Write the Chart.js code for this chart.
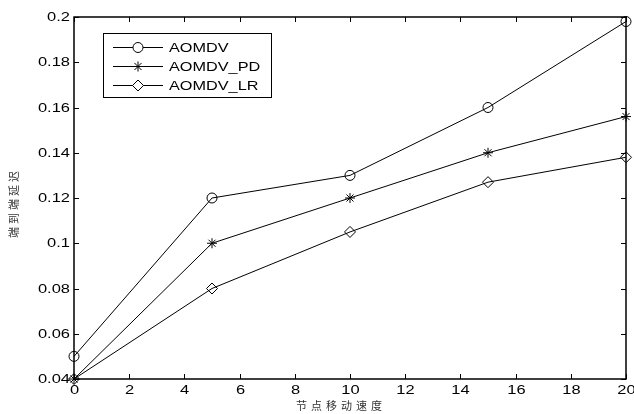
<!DOCTYPE html>
<html>
<head>
<meta charset="utf-8">
<script src="https://cdn.jsdelivr.net/npm/chart.js@4/dist/chart.umd.min.js"></script>
<style>
  html, body { margin: 0; padding: 0; background: #fff; }
  #wrap { width: 634px; height: 414px; position: relative; }
</style>
</head>
<body>
<div id="wrap"><canvas id="chart"></canvas></div>
<script>
// --- dados ---
const speeds = [0, 5, 10, 15, 20];
const aomdv = [0.05, 0.12, 0.13, 0.16, 0.198];
const aomdvPD = [0.04, 0.10, 0.12, 0.14, 0.156];
const aomdvLR = [0.04, 0.08, 0.105, 0.127, 0.138];
const seriesNames = ['AOMDV', 'AOMDV_PD', 'AOMDV_LR'];
const xTitle = '节点移动速度';
const yTitle = '端到端延迟';

function toPoints(vals) {
    return vals.map((v, i) => ({ x: speeds[i], y: v }));
}

// texto "esticado" na horizontal, como no original
function wideText(ctx, txt, x, y, align, sx) {
    const w = ctx.measureText(txt).width * sx;
    let x0 = x;
    if (align === 'right') x0 = x - w;
    else if (align === 'center') x0 = x - w / 2;
    ctx.save();
    ctx.translate(x0, y);
    ctx.scale(sx, 1);
    ctx.textAlign = 'left';
    ctx.fillText(txt, 0, 0);
    ctx.restore();
}

// moldura + ticks para dentro (estilo matlab), rótulos, títulos e legenda
const matlabFrame = {
    id: 'matlabFrame',
    afterDraw(chart) {
        const ctx = chart.ctx;
        const a = chart.chartArea;
        const xs = chart.scales.x, ys = chart.scales.y;
        ctx.save();
        ctx.strokeStyle = '#000';
        ctx.lineWidth = 1.5;
        ctx.strokeRect(a.left, a.top, a.right - a.left, a.bottom - a.top);
        ctx.lineWidth = 1;
        const t = 5;
        ctx.fillStyle = '#000';
        ctx.font = '13.5px "Liberation Sans", Arial';
        ctx.textBaseline = 'middle';
        xs.ticks.forEach(tk => {
            const px = Math.round(xs.getPixelForValue(tk.value)) + 0.5;
            ctx.beginPath();
            ctx.moveTo(px, a.bottom); ctx.lineTo(px, a.bottom - t);
            ctx.moveTo(px, a.top); ctx.lineTo(px, a.top + t);
            ctx.stroke();
            wideText(ctx, String(tk.label), px, a.bottom + 11, 'center', 1.22);
        });
        ys.ticks.forEach(tk => {
            const py = Math.round(ys.getPixelForValue(tk.value)) + 0.5;
            ctx.beginPath();
            ctx.moveTo(a.left, py); ctx.lineTo(a.left + t, py);
            ctx.moveTo(a.right, py); ctx.lineTo(a.right - t, py);
            ctx.stroke();
            wideText(ctx, String(tk.label), a.left - 4, py, 'right', 1.22);
        });

        // títulos dos eixos
        ctx.fillStyle = '#333';
        ctx.font = '11px "Noto Sans CJK SC"';
        ctx.textAlign = 'center';
        ctx.letterSpacing = '4px';
        ctx.fillText(xTitle, 341, 406);
        ctx.save();
        ctx.translate(14, 203);
        ctx.rotate(-Math.PI / 2);
        ctx.letterSpacing = '3px';
        ctx.fillText(yTitle, 0, 0);
        ctx.restore();
        ctx.letterSpacing = '0px';

        // legenda dentro da área
        const bx = 103, by = 33, bw = 168, bh = 64;
        ctx.fillStyle = '#fff';
        ctx.fillRect(bx, by, bw, bh);
        ctx.strokeStyle = '#000';
        ctx.lineWidth = 1;
        ctx.strokeRect(bx + 0.5, by + 0.5, bw, bh);
        const rowsY = [47, 66, 85];
        chart.data.datasets.forEach((ds, i) => {
            const y = rowsY[i];
            ctx.strokeStyle = '#000';
            ctx.beginPath();
            ctx.moveTo(113, y + 0.5); ctx.lineTo(163, y + 0.5);
            ctx.stroke();
            ctx.fillStyle = '#fff';
            Chart.helpers.drawPoint(ctx, {
                pointStyle: ds.pointStyle, radius: ds.pointRadius, rotation: 0, borderWidth: 1
            }, 138, y + 0.5);
            ctx.fillStyle = '#000';
            ctx.font = '13px "Liberation Sans", Arial';
            wideText(ctx, ds.label, 169, y + 1, 'left', 1.25);
        });
        ctx.restore();
    }
};

function makeDataset(label, vals, style, r) {
    return {
        label: label,
        data: toPoints(vals),
        borderColor: '#000',
        borderWidth: 1,
        backgroundColor: 'rgba(255,255,255,0)',
        pointStyle: style,
        pointRadius: r,
        pointBorderColor: '#000',
        pointBackgroundColor: 'rgba(255,255,255,0)',
        pointBorderWidth: 1,
        tension: 0,
        clip: false
    };
}

const ctx = document.getElementById('chart').getContext('2d');
new Chart(ctx, {
    type: 'line',
    data: {
        datasets: [
            makeDataset(seriesNames[0], aomdv, 'circle', 5),
            makeDataset(seriesNames[1], aomdvPD, 'star', 5),
            makeDataset(seriesNames[2], aomdvLR, 'rectRot', 5.5)
        ]
    },
    options: {
        responsive: true,
        maintainAspectRatio: false,
        animation: false,
        layout: { padding: { top: 17, right: 8, left: 0, bottom: 0 } },
        plugins: {
            legend: { display: false },
            tooltip: { enabled: false }
        },
        scales: {
            x: {
                type: 'linear',
                min: 0, max: 20,
                ticks: { stepSize: 2, color: 'rgba(0,0,0,0)', font: { size: 13 }, padding: 0, maxRotation: 0 },
                grid: { display: false },
                border: { display: false },
                afterFit(scale) { scale.height = 35; }
            },
            y: {
                min: 0.04, max: 0.2,
                ticks: {
                    stepSize: 0.02, color: 'rgba(0,0,0,0)', font: { size: 13 }, padding: 4,
                    callback: v => String(+v.toFixed(2))
                },
                grid: { display: false },
                border: { display: false },
                afterFit(scale) { scale.width = 74; }
            }
        }
    },
    plugins: [matlabFrame]
});
</script>
</body>
</html>
